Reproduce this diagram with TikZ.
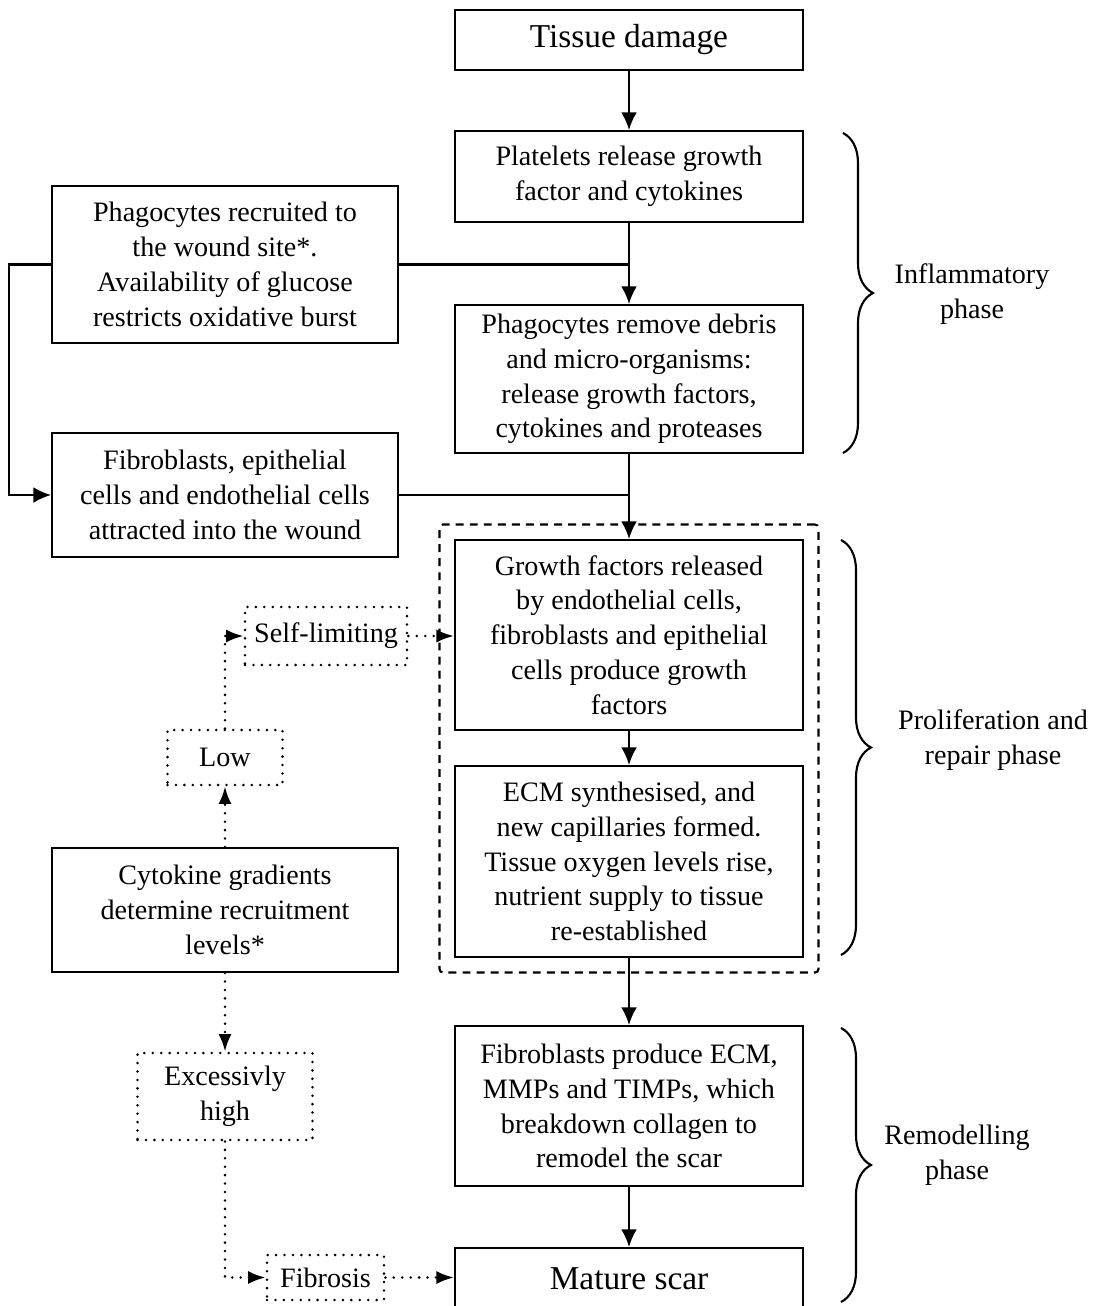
\documentclass[tikz,border=0pt]{standalone}
\usepackage{fontspec}
\setmainfont{Liberation Serif}
\usepackage{tikz}
\usetikzlibrary{arrows.meta, positioning, calc, fit, decorations.pathreplacing}

\begin{document}
\begin{tikzpicture}[
  x=0.02cm, y=-0.02cm,
  font=\fontsize{16}{19.8}\selectfont,
  mainbox/.style={rectangle, draw, line width=1.2pt, minimum width=6.96cm,
    align=center, inner sep=2pt},
  sidebox/.style={rectangle, draw, line width=1.2pt, minimum width=6.92cm,
    align=center, inner sep=2pt},
  dotbox/.style={rectangle, draw, line width=1.6pt, line cap=round,
    dash pattern=on 0pt off 4.8pt, align=center, inner sep=2pt},
  arr/.style={-{Latex[length=10pt, width=9pt]}, line width=1.2pt},
  ln/.style={line width=1.2pt},
  dotarr/.style={-{Latex[length=10pt, width=7.5pt, line cap=butt]}, line width=1.6pt,
    line cap=round, dash pattern=on 0pt off 4.8pt},
  dashbox/.style={draw, line width=1.2pt, dash pattern=on 4.5pt off 3.5pt,
    rounded corners=2pt, inner sep=0.29cm},
  brace/.style={decorate, decoration={brace, amplitude=0.6cm}, line width=1.2pt}
]
  \useasboundingbox (0,0) rectangle (1101,1306);

  % main column
  \node[mainbox, minimum height=1.2cm, font=\fontsize{19}{22}\selectfont]
    (tissue) at (629,40) {Tissue damage};
  \node[mainbox, minimum height=1.82cm] (plat) at (629,176.5)
    {Platelets release growth\\factor and cytokines};
  \node[mainbox, minimum height=2.96cm] (remove) at (629,379)
    {Phagocytes remove debris\\and micro-organisms:\\release growth factors,\\cytokines and proteases};
  \node[mainbox, minimum height=3.8cm] (growth) at (629,635)
    {Growth factors released\\by endothelial cells,\\fibroblasts and epithelial\\cells produce growth\\factors};
  \node[mainbox, minimum height=3.82cm] (ecm) at (629,861.5)
    {ECM synthesised, and\\new capillaries formed.\\Tissue oxygen levels rise,\\nutrient supply to tissue\\re-established};
  \node[mainbox, minimum height=3.2cm] (produce) at (629,1106)
    {Fibroblasts produce ECM,\\MMPs and TIMPs, which\\breakdown collagen to\\remodel the scar};
  \node[mainbox, minimum height=1.24cm, font=\fontsize{19}{22}\selectfont]
    (scar) at (629,1279) {Mature scar};
  \node[dashbox, fit=(growth)(ecm)] (grp) {};

  % left column
  \node[sidebox, minimum height=3.14cm] (recruit) at (225,264.5)
    {Phagocytes recruited to\\the wound site*.\\Availability of glucose\\restricts oxidative burst};
  \node[sidebox, minimum height=2.48cm] (fibro) at (225,495)
    {Fibroblasts, epithelial\\cells and endothelial cells\\attracted into the wound};
  \node[sidebox, minimum height=2.48cm] (cyto) at (225,910)
    {Cytokine gradients\\determine recruitment\\levels*};

  \node[dotbox, minimum width=3.24cm, minimum height=1.16cm] (self) at (326,636) {Self-limiting};
  \node[dotbox, minimum width=2.3cm, minimum height=1.1cm] (low) at (225,757.5) {Low};
  \node[dotbox, minimum width=3.5cm, minimum height=1.74cm] (exc) at (225,1096.5) {Excessivly\\high};
  \node[dotbox, minimum width=2.34cm, minimum height=0.9cm] (fib) at (325.5,1277.5) {Fibrosis};

  % phases
  \node[align=center] (infl) at (972,294) {Inflammatory\\phase};
  \node[align=center] (prolif) at (993,740) {Proliferation and\\repair phase};
  \node[align=center] (remod) at (957,1155) {Remodelling\\phase};
  \draw[brace] (843,133) -- (843,453);
  \draw[brace] (841,540) -- (841,955);
  \draw[brace] (841,1028) -- (841,1302);

  % solid connectors
  \draw[arr] (tissue) -- (plat);
  \draw[arr] (plat) -- (remove);
  \draw[ln] (recruit.east) -- (recruit.east -| plat.south);
  \draw[arr] (recruit.west) -- ++(-42,0) |- (fibro.west);
  \draw[arr] (remove) -- (growth);
  \draw[ln] (fibro.east) -- (fibro.east -| remove.south);
  \draw[arr] (growth) -- (ecm);
  \draw[arr] (ecm) -- (produce);
  \draw[arr] (produce) -- (scar);

  % dotted connectors
  \draw[dotarr] (cyto.north) -- (low.south);
  \draw[dotarr] (low.north) |- (self.west);
  \draw[dotarr] (self.east) -- (self.east -| growth.west);
  \draw[dotarr] (cyto.south) -- (exc.north);
  \draw[dotarr] (exc.south) |- (fib.west);
  \draw[dotarr] (fib.east) -- (fib.east -| scar.west);
\end{tikzpicture}
\end{document}
